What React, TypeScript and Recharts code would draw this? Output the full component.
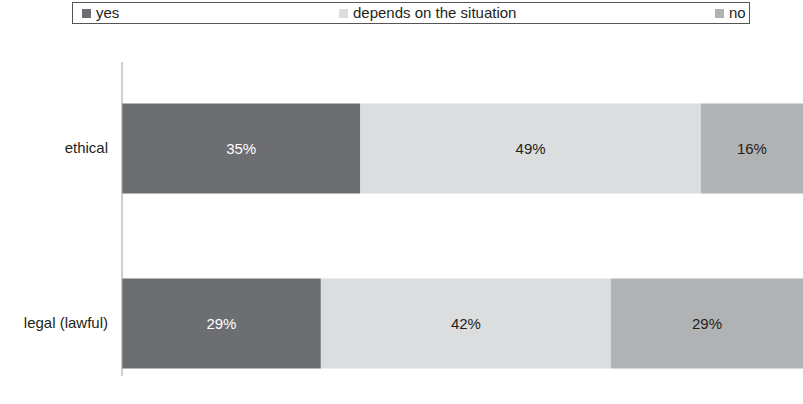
import { BarChart, Bar, XAxis, YAxis, LabelList } from 'recharts';

// categories and series
const categories = ['ethical', 'legal (lawful)'];
const yesValues = [35, 29.2];
const dependsValues = [50, 42.6];
const noValues = [15, 28.2];
// printed labels as shown on the bars
const yesLabels = ['35%', '29%'];
const dependsLabels = ['49%', '42%'];
const noLabels = ['16%', '29%'];

const seriesNames = ['yes', 'depends on the situation', 'no'];
const colors = ['#6d6e71', '#dcdddf', '#b1b2b4'];

const data = categories.map((c, i) => ({
  name: c,
  yes: yesValues[i],
  depends: dependsValues[i],
  no: noValues[i],
  yesLabel: yesLabels[i],
  dependsLabel: dependsLabels[i],
  noLabel: noLabels[i],
}));

const font = '"Liberation Sans", Arial, sans-serif';

// legend item positions (px from left)
const legendPos = [
  { sq: 82, tx: 96 },
  { sq: 339, tx: 353 },
  { sq: 715, tx: 729 },
];

function Legend() {
  return (
    <div
      style={{
        position: 'absolute',
        left: 72,
        top: 2,
        width: 676,
        height: 20,
        border: '1px solid #555',
      }}
    >
      {seriesNames.map((n, i) => (
        <div key={n}>
          <div
            style={{
              position: 'absolute',
              left: legendPos[i].sq - 73,
              top: 6,
              width: 9,
              height: 9,
              background: colors[i],
            }}
          />
          <div
            style={{
              position: 'absolute',
              left: legendPos[i].tx - 73,
              top: 1,
              fontSize: 15,
              lineHeight: '18px',
              color: '#231f20',
              whiteSpace: 'nowrap',
            }}
          >
            {n}
          </div>
        </div>
      ))}
    </div>
  );
}

export default function App() {
  return (
    <div style={{ position: 'absolute', left: 0, top: 0, width: 803, height: 404, fontFamily: font, background: '#fff' }}>
      <Legend />
      <BarChart
        width={803}
        height={404}
        data={data}
        layout="vertical"
        margin={{ top: 62, right: 0, bottom: 28, left: 0 }}
        barSize={90}
      >
        <XAxis type="number" domain={[0, 100]} hide />
        <YAxis
          type="category"
          dataKey="name"
          width={122}
          padding={{ top: -1.5, bottom: -34.5 }}
          axisLine={{ stroke: '#a0a0a0' }}
          tickLine={false}
          tickSize={0}
          tickMargin={14}
          tick={{ fill: '#231f20', fontSize: 15, fontFamily: font }}
        />
        <Bar dataKey="yes" stackId="a" fill={colors[0]} isAnimationActive={false}>
          <LabelList dataKey="yesLabel" position="center" fill="#ffffff" fontSize={15} fontFamily={font} />
        </Bar>
        <Bar dataKey="depends" stackId="a" fill={colors[1]} isAnimationActive={false}>
          <LabelList dataKey="dependsLabel" position="center" fill="#231f20" fontSize={15} fontFamily={font} />
        </Bar>
        <Bar dataKey="no" stackId="a" fill={colors[2]} isAnimationActive={false}>
          <LabelList dataKey="noLabel" position="center" fill="#231f20" fontSize={15} fontFamily={font} />
        </Bar>
      </BarChart>
    </div>
  );
}
